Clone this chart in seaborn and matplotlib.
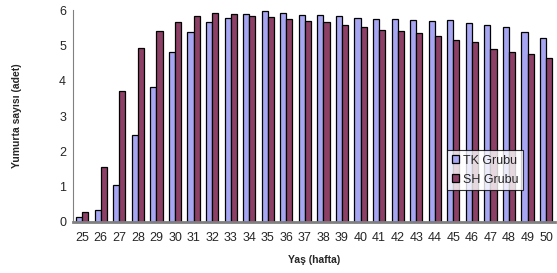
import matplotlib
matplotlib.use("Agg")
import matplotlib.pyplot as plt
import numpy as np
import pandas as pd
import seaborn as sns

weeks = list(range(25, 51))
tk_grubu = [0.14, 0.33, 1.06, 2.45, 3.82, 4.80, 5.38, 5.65, 5.77, 5.88, 5.97, 5.92,
            5.87, 5.85, 5.82, 5.79, 5.76, 5.74, 5.72, 5.69, 5.71, 5.63, 5.58, 5.52,
            5.37, 5.21]
sh_grubu = [0.29, 1.55, 3.72, 4.93, 5.40, 5.67, 5.83, 5.92, 5.89, 5.84, 5.80, 5.74,
            5.69, 5.65, 5.59, 5.52, 5.44, 5.40, 5.34, 5.26, 5.15, 5.10, 4.90, 4.80,
            4.77, 4.65]
groups = ["TK Grubu", "SH Grubu"]

df = pd.DataFrame({
    "week": [str(w) for w in weeks] * 2,
    "value": tk_grubu + sh_grubu,
    "group": [groups[0]] * len(weeks) + [groups[1]] * len(weeks),
})

sns.set_style("white")
plt.rcParams["font.family"] = ["Liberation Sans", "DejaVu Sans"]

fig = plt.figure(figsize=(5.57, 2.73), dpi=100)
ax = fig.add_axes([0.131, 0.187, 0.866, 0.776])

sns.barplot(data=df, x="week", y="value", hue="group", hue_order=groups,
            palette={"TK Grubu": "#9999FF", "SH Grubu": "#993366"},
            width=0.66, edgecolor="black", linewidth=0.9, ax=ax)

ax.set_xlim(-0.5, len(weeks) - 0.5)
ax.set_ylim(0, 6)
ax.set_yticks(range(0, 7))
ax.tick_params(axis="y", labelsize=9, length=3, width=0.8, color="#808080", pad=2)
ax.tick_params(axis="x", labelsize=9, length=0, pad=7)
ax.set_xticks(np.arange(-0.5, len(weeks), 1), minor=True)
ax.tick_params(axis="x", which="minor", length=4, width=0.8, color="#808080")

for side in ("top", "right"):
    ax.spines[side].set_visible(False)
ax.spines["left"].set_color("#808080")
ax.spines["bottom"].set_color("#808080")
ax.spines["bottom"].set_linewidth(2)

ax.set_xlabel("Yaş (hafta)", fontsize=7.5, fontweight="bold", labelpad=8)
ax.set_ylabel("Yumurta sayısı (adet)", fontsize=7.5, fontweight="bold", labelpad=27)

leg = ax.legend(loc="upper left", bbox_to_anchor=(0.776, 0.338), fontsize=9,
                frameon=True, fancybox=False, edgecolor="black",
                handlelength=0.6, handleheight=0.6, handletextpad=0.3,
                borderpad=0.35, labelspacing=0.55, borderaxespad=0)
leg.get_frame().set_linewidth(0.8)

fig.savefig("out.png", dpi=100)
